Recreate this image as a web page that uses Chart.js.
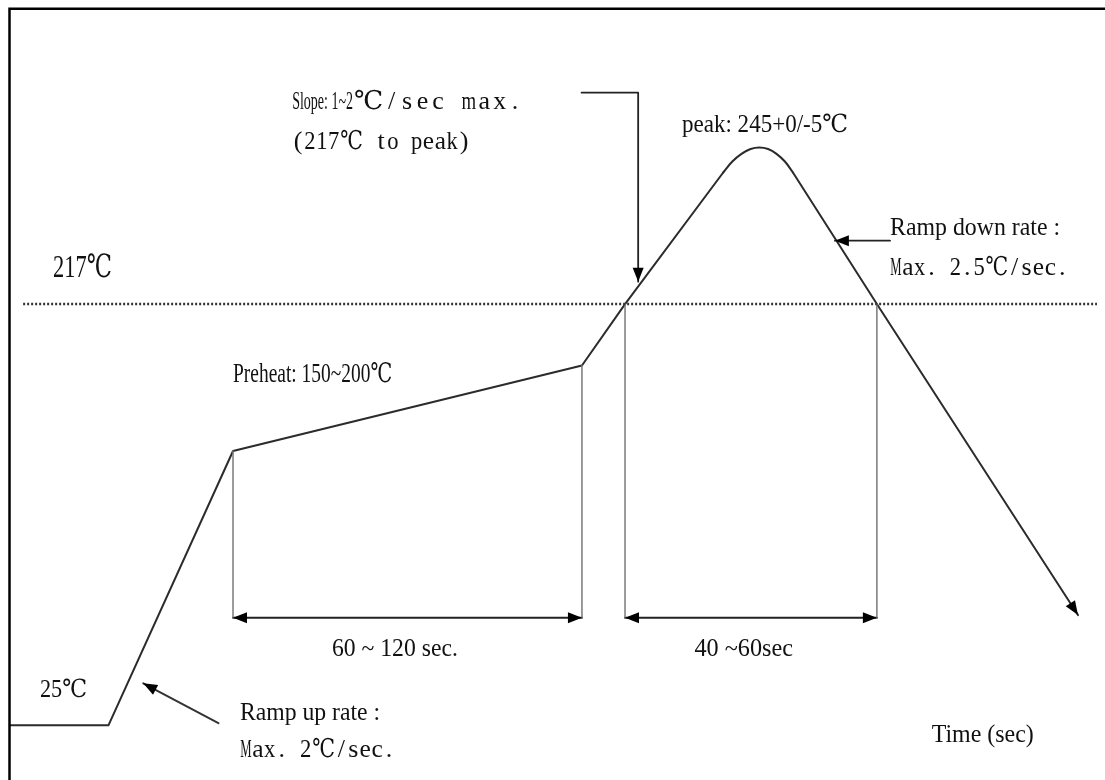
<!DOCTYPE html>
<html><head><meta charset="utf-8">
<script src="https://cdn.jsdelivr.net/npm/chart.js@4"></script>
<style>html,body{margin:0;padding:0;background:#fff}#wrap{width:1105px;height:780px}</style>
</head><body><div id="wrap"><canvas id="c" width="1105" height="780"></canvas></div>
<script>
// Schematic reflow profile: time (s, schematic) and temperature (°C, schematic)
const rampX = [0, 27, 61.1, 156.7, 168.5, 195.4];
const rampY = [25, 25, 150, 189, 217, 277.0];
const peakX = [195.4, 197.9, 200.4, 202.9, 205.3, 207.7, 210.0, 212.3, 214.5];
const peakY = [277.0, 282.0, 285.5, 287.7, 288.4, 287.7, 285.5, 282.0, 277.0];
const coolX = [214.5, 237.5, 292.6];
const coolY = [277.0, 217, 75.2];
const liquidusTemp = 217;
const liquidusX = [3.6, 297.8];
const guideX = [61.1, 156.7, 168.5, 237.5];
const guideTopY = [150, 189, 217, 217];
const spanLevel = 74;
const spanStartX = [61.1, 168.5];
const spanEndX = [156.7, 237.5];
// callout arrows (tail ... tip)
const slopeArrowX = [156.6, 172.1, 172.1];
const slopeArrowY = [313.4, 313.4, 227.2];
const rampDownArrowX = [241.1, 226.0];
const rampDownArrowY = [245.9, 245.9];
const rampUpArrowX = [57.1, 36.5];
const rampUpArrowY = [25.9, 44.1];
// text labels
const labelTexts = ["217℃", "25℃", "Preheat: 150~200℃", "Slope: 1~2", "℃/sec max.", "(217℃ to peak)",
  "peak: 245+0/-5℃", "Ramp down rate :", "Max. 2.5℃/sec.", "60 ~ 120 sec.", "40 ~60sec", "Time (sec)",
  "Ramp up rate :", "Max. 2℃/sec."];
const labelX0 = [11.8, 8.2, 61.1, 77.3, 94.0, 77.3, 184.1, 241.1, 241.1, 88.2, 187.5, 252.5, 63.0, 63.0];
const labelX1 = [27.9, 21.1, 104.7, 94.0, 140.5, 126.0, 229.6, 287.7, 289.9, 122.7, 214.5, 280.5, 101.4, 105.5];
const labelY  = [233.4, 41.0, 184.7, 309.1, 309.1, 290.9, 298.6, 251.7, 233.4, 59.5, 59.5, 20.5, 30.5, 13.7];

const SERIF = "'Liberation Serif','DejaVu Serif',serif";
// [font size, layout mode]: 'fit' = proportional text fitted to width, 'cell' = fixed-pitch cells
const labelStyle = [[32,'fit'],[25,'fit'],[27,'fit'],[26,'fit'],[26,'cell'],[26,'cell'],[25,'fit'],[25,'fit'],[26,'cell'],[25,'fit'],[25,'fit'],[25,'fit'],[25,'fit'],[26,'cell']];

const pts = (xs, ys) => xs.map((x, i) => ({x, y: ys[i]}));
const PROFILE = {borderColor:'#2b2b2b', borderWidth:2, pointRadius:0, showLine:true, fill:false};
const datasets = [];
datasets.push({data: pts(liquidusX, [liquidusTemp, liquidusTemp]), borderColor:'#333', borderWidth:2.5, borderDash:[2,2], borderCapStyle:'butt', pointRadius:0, showLine:true});
guideX.forEach((x, i) => datasets.push({data: pts([x, x], [guideTopY[i], spanLevel]), borderColor:'#7a7a7a', borderWidth:1.5, pointRadius:0, showLine:true}));
spanStartX.forEach((x, i) => datasets.push({data: pts([x, spanEndX[i]], [spanLevel, spanLevel]), borderColor:'#222', borderWidth:2, pointRadius:0, showLine:true, arrowEnds:'both'}));
datasets.push(Object.assign({data: pts(rampX, rampY), tension:0}, PROFILE));
datasets.push(Object.assign({data: pts(peakX, peakY), tension:0.4}, PROFILE));
datasets.push(Object.assign({data: pts(coolX, coolY), tension:0, arrowEnds:'end'}, PROFILE));
datasets.push({data: pts(slopeArrowX, slopeArrowY), borderColor:'#222', borderWidth:1.8, pointRadius:0, showLine:true, arrowEnds:'end'});
datasets.push({data: pts(rampDownArrowX, rampDownArrowY), borderColor:'#222', borderWidth:1.8, pointRadius:0, showLine:true, arrowEnds:'end'});
datasets.push({data: pts(rampUpArrowX, rampUpArrowY), borderColor:'#333', borderWidth:2, pointRadius:0, showLine:true, arrowEnds:'end'});

function head(ctx, x1, y1, x2, y2, color) {
  const a = Math.atan2(y2 - y1, x2 - x1), L = 14, W = 5.5;
  ctx.save(); ctx.fillStyle = color; ctx.beginPath();
  ctx.moveTo(x2, y2);
  ctx.lineTo(x2 - L*Math.cos(a) + W*Math.sin(a), y2 - L*Math.sin(a) - W*Math.cos(a));
  ctx.lineTo(x2 - L*Math.cos(a) - W*Math.sin(a), y2 - L*Math.sin(a) + W*Math.cos(a));
  ctx.closePath(); ctx.fill(); ctx.restore();
}

function drawFit(ctx, t, p0, p1, py) {
  const m = ctx.measureText(t).width;
  ctx.save(); ctx.translate(p0, py); ctx.scale((p1 - p0) / m, 1); ctx.textAlign = 'left'; ctx.fillText(t, 0, 0); ctx.restore();
}
function drawCells(ctx, t, p0, p1, py) {
  const chars = Array.from(t);
  const units = chars.reduce((s, ch) => s + (ch === '℃' ? 2 : 1), 0);
  const cw = (p1 - p0) / units;
  let x = p0;
  chars.forEach(ch => {
    const cell = (ch === '℃' ? 2 : 1) * cw;
    const w = ctx.measureText(ch).width || 1;
    const s = Math.min(1, cell * 0.95 / w);
    ctx.save(); ctx.translate(x + cell / 2, py); ctx.scale(s, 1); ctx.textAlign = 'center'; ctx.fillText(ch, 0, 0); ctx.restore();
    x += cell;
  });
}

const decor = {
  id: 'decor',
  afterDatasetsDraw(chart) {
    const {ctx, chartArea, scales:{x: xs, y: ys}} = chart;
    // frame (top and left edges)
    ctx.save(); ctx.strokeStyle = '#000'; ctx.lineWidth = 2.5;
    ctx.beginPath(); ctx.moveTo(chartArea.left - 0.5, chartArea.bottom); ctx.lineTo(chartArea.left - 0.5, chartArea.top + 0.7);
    ctx.lineTo(chartArea.right, chartArea.top + 0.7); ctx.stroke(); ctx.restore();
    // arrowheads
    chart.data.datasets.forEach(ds => {
      if (!ds.arrowEnds) return;
      const d = ds.data.map(p => [xs.getPixelForValue(p.x), ys.getPixelForValue(p.y)]);
      const n = d.length;
      head(ctx, d[n-2][0], d[n-2][1], d[n-1][0], d[n-1][1], '#000');
      if (ds.arrowEnds === 'both') head(ctx, d[1][0], d[1][1], d[0][0], d[0][1], '#000');
    });
    // labels
    ctx.save(); ctx.fillStyle = '#111'; ctx.textBaseline = 'middle';
    labelTexts.forEach((t, i) => {
      const [size, mode] = labelStyle[i];
      ctx.font = size + 'px ' + SERIF;
      const p0 = xs.getPixelForValue(labelX0[i]), p1 = xs.getPixelForValue(labelX1[i]);
      const py = ys.getPixelForValue(labelY[i]);
      if (mode === 'cell') drawCells(ctx, t, p0, p1, py); else drawFit(ctx, t, p0, p1, py);
    });
    ctx.restore();
  }
};

new Chart(document.getElementById('c'), {
  type: 'scatter',
  data: {datasets},
  options: {
    responsive: false, animation: false, devicePixelRatio: 1,
    layout: {padding: {left: 10, right: 0, top: 8, bottom: 0}},
    scales: {
      x: {type:'linear', min:0, max:300, display:false},
      y: {type:'linear', min:0, max:352, display:false}
    },
    plugins: {legend:{display:false}, tooltip:{enabled:false}},
    elements: {line:{borderCapStyle:'round', borderJoinStyle:'round'}}
  },
  plugins: [decor]
});
</script></body></html>
